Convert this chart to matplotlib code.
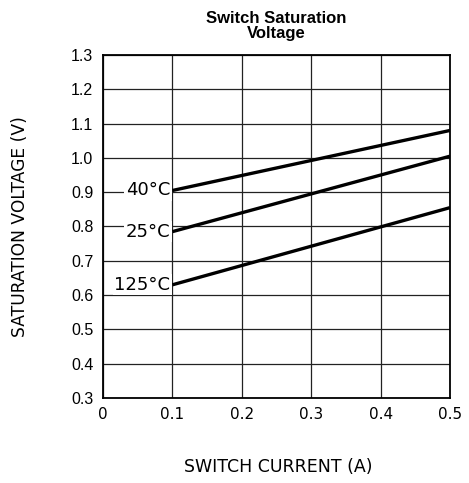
import matplotlib
matplotlib.use("Agg")
import matplotlib.pyplot as plt

current = [0.1, 0.5]
v_m40 = [0.905, 1.08]
v_25 = [0.785, 1.005]
v_125 = [0.63, 0.855]
series = [("40°C", v_m40), ("25°C", v_25), ("125°C", v_125)]
xticks = [0, 0.1, 0.2, 0.3, 0.4, 0.5]
xticklabels = ["0", "0.1", "0.2", "0.3", "0.4", "0.5"]
yticks = [0.3, 0.4, 0.5, 0.6, 0.7, 0.8, 0.9, 1.0, 1.1, 1.2, 1.3]
yticklabels = ["0.3", "0.4", "0.5", "0.6", "0.7", "0.8", "0.9", "1.0", "1.1", "1.2", "1.3"]

plt.rcParams['font.family'] = ['DejaVu Sans']
fig = plt.figure(figsize=(4.69, 4.83), dpi=100)
ax = fig.add_axes([103/469, 1 - 398/483, (450-103)/469, (398-55)/483])

ax.set_xlim(0, 0.5)
ax.set_ylim(0.3, 1.3)
ax.set_xticks(xticks)
ax.set_xticklabels(xticklabels, fontsize=11, family='DejaVu Sans')
ax.set_yticks(yticks)
ax.set_yticklabels(yticklabels, fontsize=11.5, family='Liberation Sans')
ax.tick_params(length=0)
ax.tick_params(axis='x', pad=6.5)
ax.tick_params(axis='y', pad=7)
ax.grid(True, color='#222222', linewidth=0.9, zorder=0)
ax.set_axisbelow(True)
for s in ax.spines.values():
    s.set_linewidth(1.3)
    s.set_color('black')

for label, vals in series:
    ax.plot(current, vals, color='black', linewidth=2.4, solid_capstyle='butt', zorder=3)
    ax.text(current[0] - 0.003, vals[0], label, ha='right', va='center', fontsize=13,
            bbox=dict(facecolor='white', edgecolor='none', pad=1.0), zorder=4)

fig.text(278/469, 1 - 467/483, "SWITCH CURRENT (A)", ha='center', va='center', fontsize=12.5)
fig.text(20/469, 1 - 227/483, "SATURATION VOLTAGE (V)", ha='center', va='center',
         fontsize=12.3, rotation=90)
fig.text(276/469, 1 - 26/483, "Switch Saturation\nVoltage", ha='center', va='center',
         fontsize=12, fontweight='bold', family='Liberation Sans', linespacing=0.95)

fig.savefig("out.png", dpi=100)
